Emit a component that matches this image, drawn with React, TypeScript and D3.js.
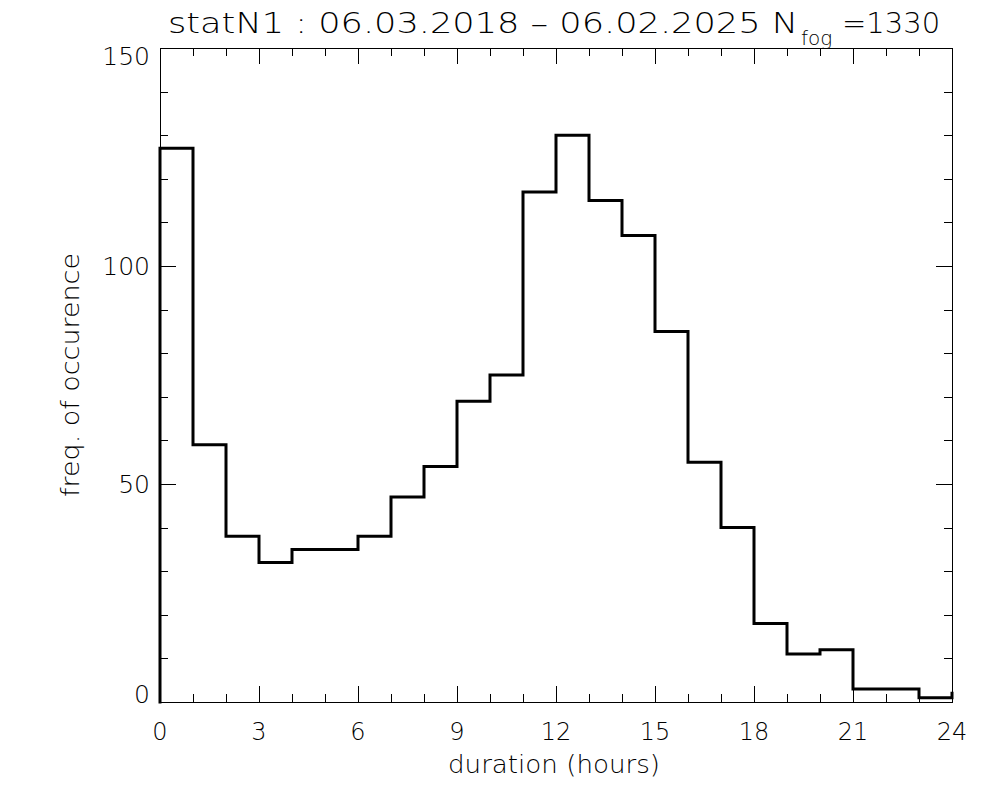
import React from "react";
import * as d3 from "d3";

// ---- data ----
const binStarts = [0, 1, 2, 3, 4, 5, 6, 7, 8, 9, 10, 11, 12, 13, 14, 15, 16, 17, 18, 19, 20, 21, 22, 23];
const counts = [127, 59, 38, 32, 35, 35, 38, 47, 54, 69, 75, 117, 130, 115, 107, 85, 55, 40, 18, 11, 12, 3, 3, 1];
const tailCount = 2; // next bin (24-25), only its rising edge is visible at x = 24
const xMajorTicks = [0, 3, 6, 9, 12, 15, 18, 21, 24];
const xMinorTicks = d3.range(0, 25, 1);
const yMajorTicks = [0, 50, 100, 150];
const yMinorTicks = d3.range(0, 151, 10);
const titleMain = "statN1 : 06.03.2018 \u2013 06.02.2025 N";
const titleSub = "fog";
const titleEnd = "=1330";
const xLabel = "duration (hours)";
const yLabel = "freq. of occurence";

const W = 1000;
const H = 800;
const L = 160, R = 952, T = 48, B = 702;
const FONT = "'DejaVu Sans', sans-serif";

export default function App() {
  const x = d3.scaleLinear().domain([0, 24]).range([L, R]);
  const y = d3.scaleLinear().domain([0, 150]).range([B, T]);

  const pts: [number, number][] = [[0, 0]];
  binStarts.forEach((s, i) => pts.push([s, counts[i]]));
  pts.push([24, counts[counts.length - 1]]);
  pts.push([24, tailCount]);
  const line = d3
    .line<[number, number]>()
    .x((d) => x(d[0]))
    .y((d) => y(d[1]))
    .curve(d3.curveStepAfter);

  const minorLen = 8;
  const majorLen = 16;

  return (
    <svg
      width={W}
      height={H}
      style={{ position: "absolute", left: 0, top: 0, background: "#fff" }}
      fontFamily={FONT}
      fontWeight={200}
    >
      <rect x={0} y={0} width={W} height={H} fill="#fff" />
      {/* frame */}
      <rect x={L + 0.5} y={T + 0.5} width={R - L} height={B - T} fill="none" stroke="#000" strokeWidth={1} />
      {/* x ticks bottom & top */}
      {xMinorTicks.map((t) => {
        const len = xMajorTicks.includes(t) ? majorLen : minorLen;
        const xx = Math.round(x(t)) + 0.5;
        return (
          <g key={"xt" + t}>
            <line x1={xx} x2={xx} y1={B} y2={B - len} stroke="#000" strokeWidth={1} />
            <line x1={xx} x2={xx} y1={T} y2={T + len} stroke="#000" strokeWidth={1} />
          </g>
        );
      })}
      {/* y ticks left & right */}
      {yMinorTicks.map((t) => {
        const len = yMajorTicks.includes(t) ? majorLen : minorLen;
        const yy = Math.round(y(t)) + 0.5;
        return (
          <g key={"yt" + t}>
            <line x1={L} x2={L + len} y1={yy} y2={yy} stroke="#000" strokeWidth={1} />
            <line x1={R} x2={R - len} y1={yy} y2={yy} stroke="#000" strokeWidth={1} />
          </g>
        );
      })}
      {/* histogram */}
      <path d={line(pts) || ""} fill="none" stroke="#000" strokeWidth={3} strokeLinejoin="miter" strokeLinecap="square" />
      {/* x tick labels */}
      {xMajorTicks.map((t) => (
        <text key={"xl" + t} x={x(t)} y={740} fontSize={24} textAnchor="middle" fill="#000">
          {t}
        </text>
      ))}
      {/* y tick labels */}
      {yMajorTicks.map((t) => {
        const off = t === 150 ? 17 : t === 0 ? 1 : 9;
        return (
          <text key={"yl" + t} x={150} y={y(t) + off} fontSize={25} textAnchor="end" fill="#000">
            {t}
          </text>
        );
      })}
      {/* axis titles */}
      <text x={554} y={773} fontSize={24} textAnchor="middle" fill="#000" textLength={212} lengthAdjust="spacingAndGlyphs">
        {xLabel}
      </text>
      <text
        transform={`translate(79,375) rotate(-90)`}
        fontSize={24}
        textAnchor="middle"
        fill="#000"
        textLength={244}
        lengthAdjust="spacingAndGlyphs"
      >
        {yLabel}
      </text>
      {/* title */}
      <text x={168} y={33} fontSize={29} fill="#000" textLength={630} lengthAdjust="spacingAndGlyphs">
        {titleMain}
      </text>
      <text x={801} y={45} fontSize={20} fill="#000">
        {titleSub}
      </text>
      <text x={842} y={33} fontSize={29} fill="#000">
        {titleEnd}
      </text>
    </svg>
  );
}
